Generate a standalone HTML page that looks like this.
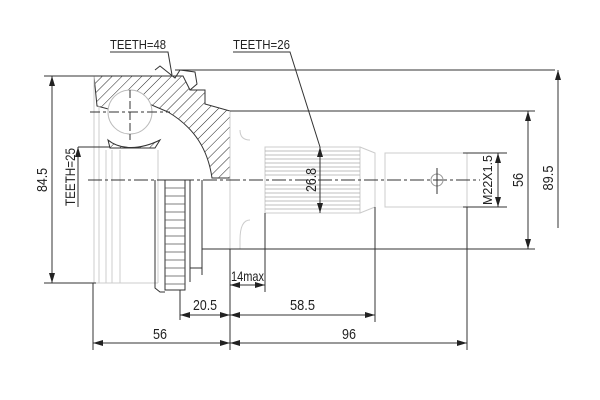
<!DOCTYPE html>
<html><head><style>html,body{margin:0;padding:0;background:#fff}svg{display:block}</style></head><body>
<svg width="600" height="400" viewBox="0 0 600 400" xmlns="http://www.w3.org/2000/svg" font-family="Liberation Sans, sans-serif">
<defs>
<pattern id="h" width="7" height="7" patternUnits="userSpaceOnUse" patternTransform="rotate(45)"><line x1="0" y1="0" x2="0" y2="7" stroke="#222" stroke-width="1"/></pattern>
<marker id="a" viewBox="0 0 10 6" refX="10" refY="3" markerWidth="10" markerHeight="6" orient="auto-start-reverse" markerUnits="userSpaceOnUse"><path d="M0,0L10,3L0,6z" fill="#222"/></marker>
</defs>
<g stroke="#333" stroke-width="1" fill="none">
<path d="M94,76 L183,76 L190,90 L205,90 L205,104 L230,111 L230,178 L212,178 C208,150 195,128 168,112 L140,100 L112,110 L97,106 Z" fill="url(#h)" stroke="#333"/>
<path d="M108,140 C120,150 140,150 160,140 L155,148 L110,148 Z" fill="url(#h)"/>
<circle cx="130" cy="112" r="22" fill="#fff" stroke="#bbb"/>
<g stroke="#ccc">
<path d="M94,76 L94,283 L158,283"/>
<line x1="99" y1="106" x2="99" y2="283"/><line x1="106" y1="150" x2="106" y2="283"/>
<line x1="112" y1="150" x2="112" y2="283"/><line x1="120" y1="150" x2="120" y2="283"/>
<line x1="158" y1="150" x2="158" y2="283"/>
<line x1="230" y1="111" x2="230" y2="249"/>
<path d="M230,111 L430,111 M230,249 L265,249"/>
<rect x="265" y="147" width="95" height="66"/>
<path d="M360,147 L375,153 L375,207 L360,213"/>
<rect x="385" y="153" width="82" height="54"/>
<path d="M250,140 Q240,140 240,130 M250,220 Q240,220 240,240 L240,249"/>
</g>
<g stroke="#aaa" stroke-width="0.8">
<line x1="265" y1="151" x2="360" y2="151"/><line x1="265" y1="155" x2="360" y2="155"/><line x1="265" y1="159" x2="360" y2="159"/><line x1="265" y1="163" x2="360" y2="163"/><line x1="265" y1="167" x2="360" y2="167"/><line x1="265" y1="171" x2="360" y2="171"/><line x1="265" y1="175" x2="360" y2="175"/><line x1="265" y1="185" x2="360" y2="185"/><line x1="265" y1="189" x2="360" y2="189"/><line x1="265" y1="193" x2="360" y2="193"/><line x1="265" y1="197" x2="360" y2="197"/><line x1="265" y1="201" x2="360" y2="201"/><line x1="265" y1="205" x2="360" y2="205"/><line x1="265" y1="209" x2="360" y2="209"/>
</g>
<rect x="165" y="180" width="20" height="110" stroke="#333"/>
<g stroke="#555" stroke-width="0.8">
<line x1="165" y1="188" x2="185" y2="188"/><line x1="165" y1="196" x2="185" y2="196"/><line x1="165" y1="204" x2="185" y2="204"/><line x1="165" y1="212" x2="185" y2="212"/><line x1="165" y1="220" x2="185" y2="220"/><line x1="165" y1="228" x2="185" y2="228"/><line x1="165" y1="236" x2="185" y2="236"/><line x1="165" y1="244" x2="185" y2="244"/><line x1="165" y1="252" x2="185" y2="252"/><line x1="165" y1="260" x2="185" y2="260"/><line x1="165" y1="268" x2="185" y2="268"/><line x1="165" y1="276" x2="185" y2="276"/><line x1="165" y1="284" x2="185" y2="284"/>
</g>
<path d="M155,180 L155,288 L160,292 L165,292 M185,180 L190,180 L190,282 M202,180 L202,275 M190,268 L202,268 M202,249 L230,249"/>
<path d="M155,70 L160,66 L175,78 L180,70 L195,72 L197,84 L190,90" stroke="#333"/>
<line x1="88" y1="180" x2="480" y2="180" stroke-dasharray="14,3,3,3"/>
<line x1="90" y1="112" x2="170" y2="112" stroke-dasharray="10,3,3,3"/>
<line x1="130" y1="90" x2="130" y2="140" stroke-dasharray="8,3"/>
<circle cx="437" cy="180" r="6" stroke="#999"/><line x1="437" y1="168" x2="437" y2="194"/>
<line x1="175" y1="70" x2="555" y2="70"/>
<line x1="44" y1="76" x2="96" y2="76"/><line x1="44" y1="283" x2="96" y2="283"/>
<line x1="52" y1="76" x2="52" y2="283" marker-start="url(#a)" marker-end="url(#a)"/>
<line x1="230" y1="111" x2="535" y2="111"/><line x1="230" y1="249" x2="535" y2="249"/>
<line x1="528" y1="111" x2="528" y2="249" marker-start="url(#a)" marker-end="url(#a)"/>
<line x1="558" y1="70" x2="558" y2="228" marker-start="url(#a)"/>
<line x1="463" y1="153" x2="507" y2="153"/><line x1="463" y1="207" x2="507" y2="207"/>
<line x1="498" y1="153" x2="498" y2="207" marker-start="url(#a)" marker-end="url(#a)"/>
<line x1="320" y1="147" x2="320" y2="213" marker-start="url(#a)" marker-end="url(#a)"/>
<line x1="78" y1="147" x2="110" y2="147"/><line x1="78" y1="147" x2="78" y2="207" marker-start="url(#a)"/>
<line x1="93" y1="283" x2="93" y2="350"/><line x1="230" y1="249" x2="230" y2="350"/>
<line x1="265" y1="213" x2="265" y2="292"/><line x1="375" y1="207" x2="375" y2="322"/>
<line x1="467" y1="207" x2="467" y2="350"/><line x1="180" y1="290" x2="180" y2="320"/>
<line x1="230" y1="285" x2="265" y2="285" marker-start="url(#a)" marker-end="url(#a)"/>
<line x1="180" y1="315" x2="230" y2="315" marker-start="url(#a)" marker-end="url(#a)"/>
<line x1="230" y1="315" x2="375" y2="315" marker-start="url(#a)" marker-end="url(#a)"/>
<line x1="93" y1="343" x2="230" y2="343" marker-start="url(#a)" marker-end="url(#a)"/>
<line x1="230" y1="343" x2="467" y2="343" marker-start="url(#a)" marker-end="url(#a)"/>
<path d="M110,52 L168,52 L172,75" /><path d="M233,52 L290,52 L320,147"/>
</g>
<g fill="#222" font-size="15">
<text x="110" y="49" font-size="13" textLength="56" lengthAdjust="spacingAndGlyphs">TEETH=48</text>
<text x="233" y="49" font-size="13" textLength="57" lengthAdjust="spacingAndGlyphs">TEETH=26</text>
<text x="231" y="281" font-size="14" textLength="33" lengthAdjust="spacingAndGlyphs">14max</text>
<text x="193" y="310" textLength="24" lengthAdjust="spacingAndGlyphs">20.5</text>
<text x="290" y="310" textLength="25" lengthAdjust="spacingAndGlyphs">58.5</text>
<text x="153" y="339" textLength="14" lengthAdjust="spacingAndGlyphs">56</text>
<text x="342" y="339" textLength="14" lengthAdjust="spacingAndGlyphs">96</text>
<text transform="translate(47,180) rotate(-90)" text-anchor="middle" textLength="24" lengthAdjust="spacingAndGlyphs">84.5</text>
<text transform="translate(75,177) rotate(-90)" text-anchor="middle" font-size="14" textLength="58" lengthAdjust="spacingAndGlyphs">TEETH=25</text>
<text transform="translate(316,180) rotate(-90)" text-anchor="middle" textLength="24" lengthAdjust="spacingAndGlyphs">26.8</text>
<text transform="translate(492,180) rotate(-90)" text-anchor="middle" font-size="13" textLength="50" lengthAdjust="spacingAndGlyphs">M22X1.5</text>
<text transform="translate(523,180) rotate(-90)" text-anchor="middle" textLength="14" lengthAdjust="spacingAndGlyphs">56</text>
<text transform="translate(553,178) rotate(-90)" text-anchor="middle" textLength="25" lengthAdjust="spacingAndGlyphs">89.5</text>
</g>
</svg>
</body></html>
